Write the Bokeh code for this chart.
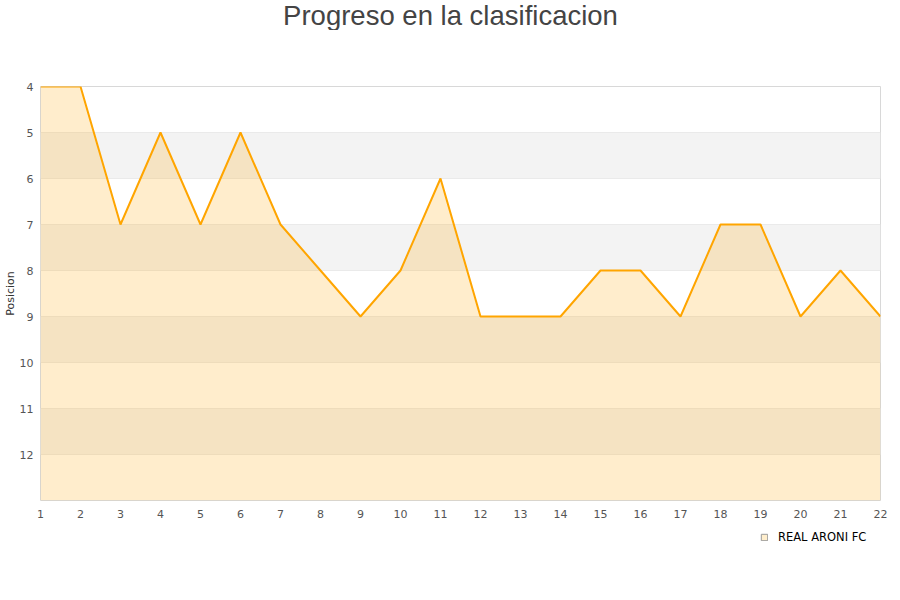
from bokeh.plotting import figure
from bokeh.layouts import column
from bokeh.models import Range1d, FixedTicker, Legend, LegendItem, ColumnDataSource, Label
from bokeh.embed import file_html
from bokeh.resources import INLINE

jornadas = list(range(1, 23))
posiciones = [4, 4, 7, 5, 7, 5, 7, 8, 9, 8, 6, 9, 9, 9, 8, 8, 9, 7, 7, 9, 8, 9]
y_ticks = [4, 5, 6, 7, 8, 9, 10, 11, 12]
band_starts = [5, 7, 9, 11]
team = "REAL ARONI FC"
title_text = "Progreso en la clasificacion"
y_bottom = 13


def strip(height):
    s = figure(width=892, height=height, output_backend="svg", toolbar_location=None,
               x_axis_type=None, y_axis_type=None, x_range=Range1d(0, 1), y_range=Range1d(0, 1),
               min_border_left=0, min_border_right=0, min_border_top=0, min_border_bottom=0)
    s.outline_line_color = None
    s.xgrid.grid_line_color = None
    s.ygrid.grid_line_color = None
    return s


# title strip
ts = strip(30)
ts.add_layout(Label(x=410, y=15, x_units="screen", y_units="screen", text=title_text,
                    text_align="center", text_baseline="middle", text_font="Liberation Sans",
                    text_font_size="27.5px", text_color="#444444"))

p = figure(width=892, height=495, output_backend="svg", toolbar_location=None,
           x_range=Range1d(1, 22), y_range=Range1d(y_bottom, 4),
           min_border_left=40, min_border_right=12, min_border_top=56, min_border_bottom=25)

band_src = ColumnDataSource(dict(bottom=band_starts, top=[b + 1 for b in band_starts]))
p.quad(left=1, right=22, bottom="bottom", top="top", source=band_src,
       fill_color="#f3f3f3", line_color=None)

src = ColumnDataSource(dict(x=jornadas, y=posiciones, base=[y_bottom] * len(jornadas)))
p.varea(x="x", y1="y", y2="base", source=src, fill_color="#ffa500", fill_alpha=0.2)
p.line(x="x", y="y", source=src, line_color="#ffa500", line_width=2)

p.xaxis.ticker = FixedTicker(ticks=jornadas)
p.yaxis.ticker = FixedTicker(ticks=y_ticks)
for ax in (p.xaxis, p.yaxis):
    ax.axis_line_color = None
    ax.major_tick_line_color = None
    ax.minor_tick_line_color = None
    ax.major_tick_out = 0
    ax.major_tick_in = 0
    ax.minor_tick_out = 0
    ax.minor_tick_in = 0
    ax.major_label_text_font = "DejaVu Sans"
    ax.major_label_text_font_size = "11px"
    ax.major_label_text_color = "#555555"
p.yaxis.axis_label = "Posicion"
p.yaxis.axis_label_text_font = "DejaVu Sans"
p.yaxis.axis_label_text_font_size = "11px"
p.yaxis.axis_label_text_font_style = "normal"
p.yaxis.axis_label_text_color = "#333333"
p.yaxis.axis_label_standoff = 0
p.yaxis.major_label_standoff = 7
p.xaxis.major_label_standoff = 9

p.xgrid.grid_line_color = None
p.ygrid.grid_line_color = "#e0e0e0"
p.outline_line_color = "#d8d8d8"
p.background_fill_color = "white"

# legend strip below the chart (its frame is aligned with the chart frame)
lg = strip(40)
# proxy glyph for the legend: one data point lying outside this strip's ranges
legend_marker = lg.rect(x=jornadas[:1], y=posiciones[:1], width=1, height=1,
                        fill_color="#ffeecc", line_color="#999999", line_width=1)
legend = Legend(items=[LegendItem(label=team, renderers=[legend_marker])],
                location=(716, 17), orientation="horizontal",
                border_line_alpha=0, background_fill_alpha=0,
                label_text_font="DejaVu Sans", label_text_font_size="11.5px",
                label_text_color="#000000", glyph_width=8, glyph_height=8,
                margin=0, padding=4, label_standoff=10)
lg.add_layout(legend, "center")

layout = column(ts, p, lg, spacing=0)
open("out.html", "w").write(file_html(layout, INLINE))
